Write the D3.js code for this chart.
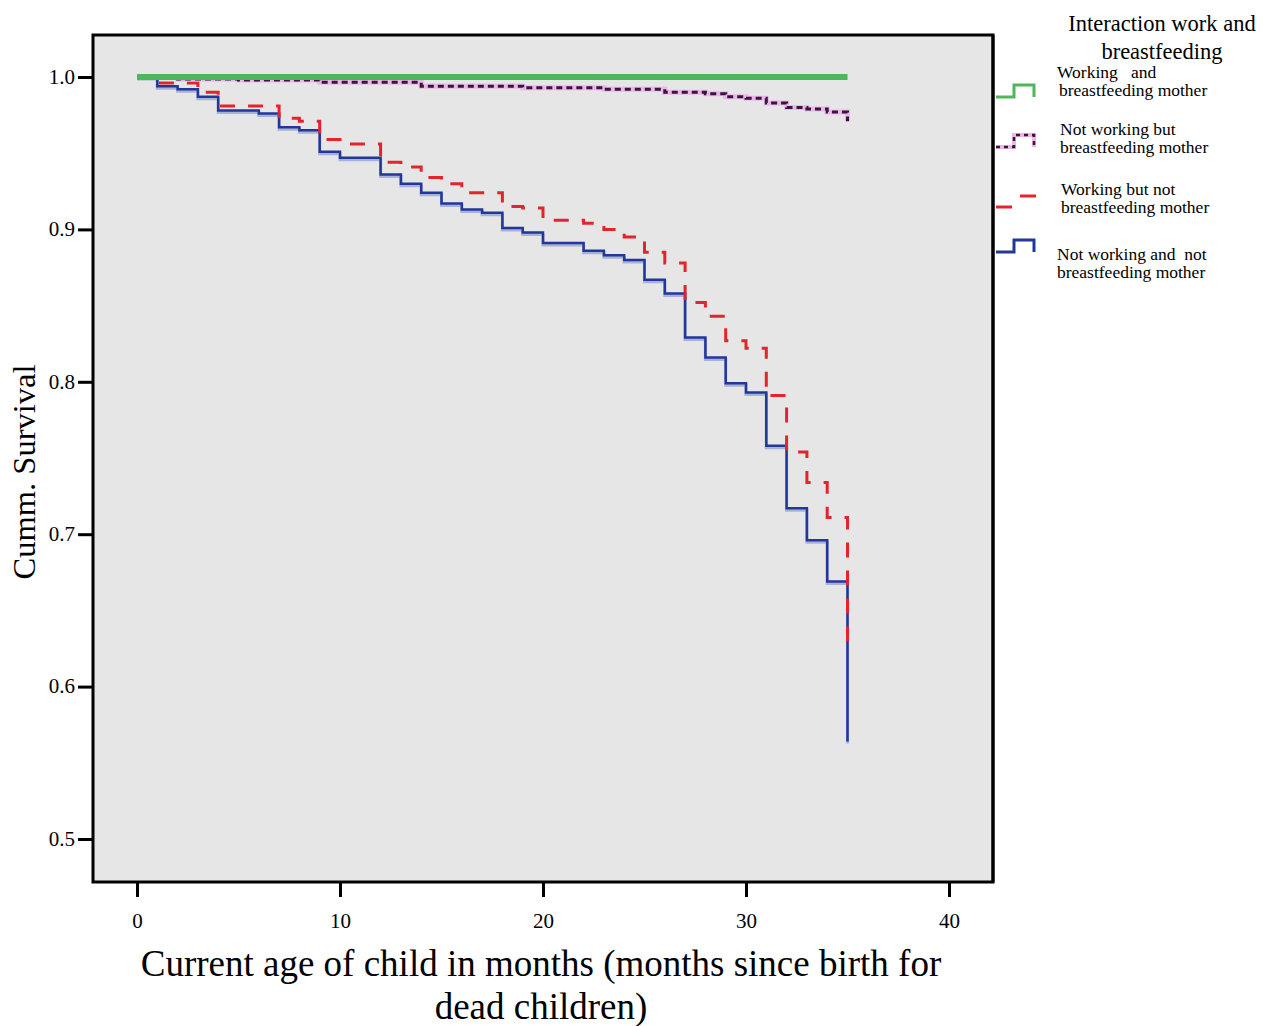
<!DOCTYPE html>
<html>
<head>
<meta charset="utf-8">
<script src="https://cdnjs.cloudflare.com/ajax/libs/d3/7.8.5/d3.min.js"></script>
<style>
	body { margin: 0; background: #fff; }
	text { font-family: "Liberation Serif", "Times New Roman", serif; }
</style>
</head>
<body>
<script>
// legend labels, two lines each
var legendTitle = ['Interaction work and', 'breastfeeding'];
var legendLabels = [
	['Working   and', 'breastfeeding mother'],
	['Not working but', 'breastfeeding mother'],
	['Working but not', 'breastfeeding mother'],
	['Not working and  not', 'breastfeeding mother']
];

// step times (months) and cumulative survival
var workBfTimes = [0, 35];
var workBfSurv = [1.0, 1.0];

var notWorkBfTimes = [0, 2, 5, 9, 14, 19, 23, 26, 28, 29, 30, 31, 32, 33, 34, 35];
var notWorkBfSurv = [1.0, 0.9987, 0.998, 0.9965, 0.994, 0.993, 0.992, 0.990, 0.989, 0.987, 0.986, 0.983, 0.980, 0.979, 0.977, 0.971];

var workNotBfTimes = [0, 1, 3, 4, 7, 8, 9, 10, 12, 13, 14, 15, 16, 18, 19, 20, 22, 23, 24, 25, 26, 27, 28, 29, 30, 31, 32, 33, 34, 35];
var workNotBfSurv = [1.0, 0.996, 0.990, 0.981, 0.973, 0.971, 0.959, 0.956, 0.944, 0.941, 0.934, 0.930, 0.924, 0.915, 0.914, 0.906, 0.904, 0.900, 0.895, 0.885, 0.878, 0.852, 0.843, 0.827, 0.822, 0.791, 0.754, 0.734, 0.711, 0.627];

var notWorkNotBfTimes = [0, 1, 2, 3, 4, 6, 7, 8, 9, 10, 12, 13, 14, 15, 16, 17, 18, 19, 20, 22, 23, 24, 25, 26, 27, 28, 29, 30, 31, 32, 33, 34, 35];
var notWorkNotBfSurv = [1.0, 0.994, 0.992, 0.987, 0.978, 0.976, 0.967, 0.965, 0.951, 0.947, 0.936, 0.930, 0.924, 0.917, 0.913, 0.911, 0.901, 0.898, 0.891, 0.886, 0.883, 0.880, 0.867, 0.858, 0.829, 0.816, 0.799, 0.793, 0.758, 0.717, 0.696, 0.669, 0.564];

var xTicks = [0, 10, 20, 30, 40];
var yTicks = [0.5, 0.6, 0.7, 0.8, 0.9, 1.0];

var width = 1266,
		height = 1026;

var svg = d3.select('body')
	.append('svg')
	.attr('width', width)
	.attr('height', height);

var x = d3.scaleLinear()
	.domain([0, 40])
	.range([137, 949]);

var y = d3.scaleLinear()
	.domain([0.5, 1.0])
	.range([839, 77]);

// plot frame
svg.append('rect')
	.attr('x', 93)
	.attr('y', 35)
	.attr('width', 900)
	.attr('height', 847)
	.attr('fill', '#e6e6e6')
	.attr('stroke', '#000')
	.attr('stroke-width', 3);

var xAxis = svg.append('g')
	.attr('transform', 'translate(0,882)')
	.call(d3.axisBottom(x).tickValues(xTicks).tickSize(15).tickPadding(16));

var yAxis = svg.append('g')
	.attr('transform', 'translate(93,0)')
	.call(d3.axisLeft(y).tickValues(yTicks).tickSize(15).tickPadding(3).tickFormat(d3.format('.1f')));

[xAxis, yAxis].forEach(function(g) {
	g.select('.domain').remove();
	g.selectAll('.tick line').attr('stroke', '#000').attr('stroke-width', 3);
	g.selectAll('.tick text')
		.attr('fill', '#000')
		.style('font-family', '"Liberation Serif", serif');
});
xAxis.selectAll('.tick text').style('font-size', '21px');
yAxis.selectAll('.tick text').style('font-size', '21px').attr('dy', '0.3em');

function toPoints(times, surv) {
	return times.map(function(t, i) { return [t, surv[i]]; });
}

var line = d3.line()
	.x(function(d) { return x(d[0]); })
	.y(function(d) { return y(d[1]); })
	.curve(d3.curveStepAfter);

var curves = svg.append('g').attr('fill', 'none');

// blue: not working and not breastfeeding (soft shadow + line)
curves.append('path')
	.attr('d', line(toPoints(notWorkNotBfTimes, notWorkNotBfSurv)))
	.attr('transform', 'translate(0,2)')
	.attr('stroke', '#8d9bd0')
	.attr('stroke-width', 3)
	.attr('opacity', 0.7);
curves.append('path')
	.attr('d', line(toPoints(notWorkNotBfTimes, notWorkNotBfSurv)))
	.attr('stroke', '#22379a')
	.attr('stroke-width', 2.5);

// red dashed: working but not breastfeeding
curves.append('path')
	.attr('d', line(toPoints(workNotBfTimes, workNotBfSurv)))
	.attr('stroke', '#e3242b')
	.attr('stroke-width', 3)
	.attr('stroke-dasharray', '15,13');

// purple dotted: not working but breastfeeding
curves.append('path')
	.attr('d', line(toPoints(notWorkBfTimes, notWorkBfSurv)))
	.attr('stroke', '#e9b8e6')
	.attr('stroke-width', 5);
curves.append('path')
	.attr('d', line(toPoints(notWorkBfTimes, notWorkBfSurv)))
	.attr('stroke', '#3b1240')
	.attr('stroke-width', 3)
	.attr('stroke-dasharray', '6,4');

// green: working and breastfeeding
curves.append('path')
	.attr('d', line(toPoints(workBfTimes, workBfSurv)))
	.attr('stroke', '#4fb65a')
	.attr('stroke-width', 6);

// axis titles
svg.append('text')
	.attr('transform', 'translate(35,472) rotate(-90)')
	.attr('text-anchor', 'middle')
	.attr('textLength', 215)
	.attr('lengthAdjust', 'spacingAndGlyphs')
	.style('font-size', '31px')
	.text('Cumm. Survival');

svg.append('text')
	.attr('x', 541)
	.attr('y', 976)
	.attr('text-anchor', 'middle')
	.style('font-size', '37px')
	.text('Current age of child in months (months since birth for');

svg.append('text')
	.attr('x', 541)
	.attr('y', 1019)
	.attr('text-anchor', 'middle')
	.style('font-size', '37px')
	.text('dead children)');

// legend
var legend = svg.append('g');

legend.append('rect')
	.attr('x', 995)
	.attr('y', 0)
	.attr('width', 271)
	.attr('height', 310)
	.attr('fill', '#fff');

legend.selectAll('text.title')
	.data(legendTitle)
	.enter().append('text')
	.attr('class', 'title')
	.attr('x', 1162)
	.attr('y', function(d, i) { return 31 + i * 28; })
	.attr('text-anchor', 'middle')
	.style('font-size', '22.5px')
	.text(function(d) { return d; });

var legendRows = [
	{ top: 73, textX: 1057 },
	{ top: 130, textX: 1060 },
	{ top: 190, textX: 1061 },
	{ top: 255, textX: 1057 }
];

legendLabels.forEach(function(lines, i) {
	lines.forEach(function(s, j) {
		legend.append('text')
			.attr('x', legendRows[i].textX + (j === 1 && i === 0 ? 2 : 0))
			.attr('y', legendRows[i].top + 5 + j * 18)
			.style('font-size', '17.5px')
			.style('white-space', 'pre')
			.text(s);
	});
});

// legend swatches: little step glyphs
var sw = d3.line();
function stepGlyph(cy) {
	return sw([[996, cy + 6], [1014, cy + 6], [1014, cy - 6], [1034, cy - 6], [1034, cy + 6]]);
}

legend.append('path')
	.attr('d', stepGlyph(91))
	.attr('fill', 'none')
	.attr('stroke', '#4fb65a')
	.attr('stroke-width', 3);

legend.append('path')
	.attr('d', stepGlyph(141))
	.attr('fill', 'none')
	.attr('stroke', '#e9b8e6')
	.attr('stroke-width', 4);
legend.append('path')
	.attr('d', stepGlyph(141))
	.attr('fill', 'none')
	.attr('stroke', '#3b1240')
	.attr('stroke-width', 2.5)
	.attr('stroke-dasharray', '4,4');

legend.append('path')
	.attr('d', sw([[996, 207], [1012, 207]]))
	.attr('stroke', '#e3242b')
	.attr('stroke-width', 3);
legend.append('path')
	.attr('d', sw([[1020, 196], [1036, 196]]))
	.attr('stroke', '#e3242b')
	.attr('stroke-width', 3);

legend.append('path')
	.attr('d', stepGlyph(246))
	.attr('fill', 'none')
	.attr('stroke', '#22379a')
	.attr('stroke-width', 3);

// right edge of the frame shows beside the legend
svg.append('line')
	.attr('x1', 993).attr('x2', 993)
	.attr('y1', 35).attr('y2', 882)
	.attr('stroke', '#000')
	.attr('stroke-width', 3);
</script>
</body>
</html>
